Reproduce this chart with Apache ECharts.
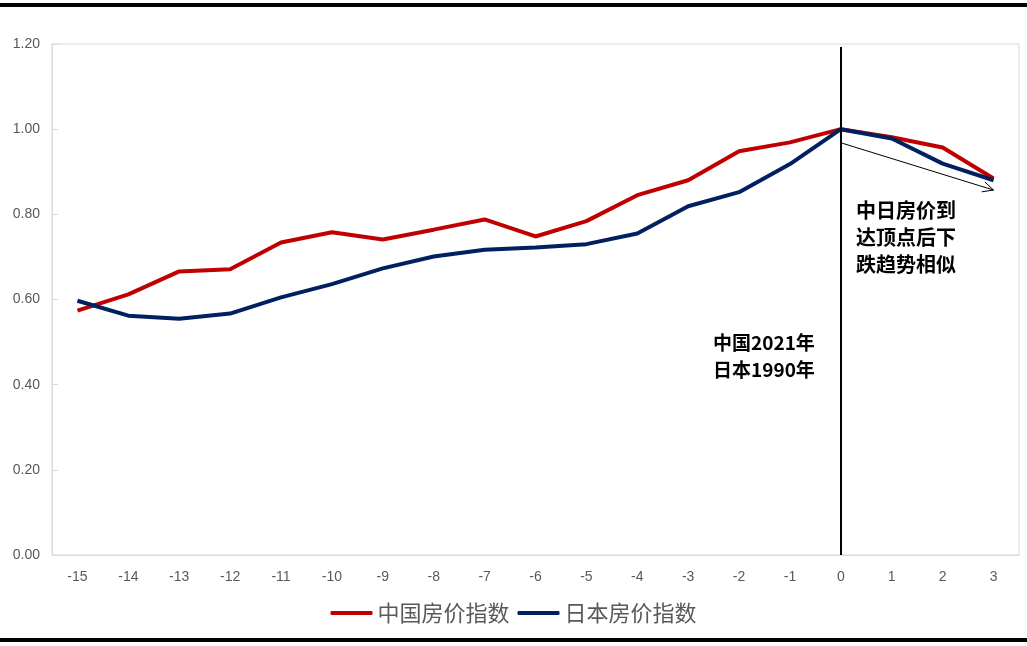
<!DOCTYPE html>
<html><head><meta charset="utf-8">
<script src="https://cdn.jsdelivr.net/npm/echarts@6/dist/echarts.min.js"></script>
<style>html,body{margin:0;padding:0;background:#fff}#c{width:1027px;height:646px}</style>
</head><body><div id="c"></div>
<script>
const categories = ['-15','-14','-13','-12','-11','-10','-9','-8','-7','-6','-5','-4','-3','-2','-1','0','1','2','3'];
const chinaIndex = [0.574,0.612,0.666,0.671,0.734,0.758,0.741,0.764,0.788,0.748,0.784,0.845,0.880,0.948,0.969,1.000,0.981,0.957,0.884];
const japanIndex = [0.597,0.562,0.555,0.567,0.605,0.636,0.673,0.701,0.717,0.722,0.730,0.755,0.819,0.852,0.918,1.000,0.978,0.919,0.880];
const seriesNames = ['中国房价指数','日本房价指数'];
const peakLabel = ['中国2021年','日本1990年'];
const trendLabel = ['中日房价到','达顶点后下','跌趋势相似'];
const peakLineTop = ['0', 1.193];
const peakLineBottom = ['0', 0];
const arrowFrom = ['0', 0.968];
const arrowTo = ['3', 0.857];

const chart = echarts.init(document.getElementById('c'), null, {renderer:'canvas'});
const labelFont = 'Liberation Sans';
const cjk = 'Noto Sans CJK SC';
const baseGraphic = [
  {type:'text',left:713,top:329,style:{text:peakLabel.join('\n'),font:'bold 19px "Noto Sans CJK SC"',lineHeight:27,fill:'#000'}},
  {type:'text',left:856,top:197,style:{text:trendLabel.join('\n'),font:'bold 20px "Noto Sans CJK SC"',lineHeight:27,fill:'#000'}},
  {type:'rect',shape:{x:0,y:3,width:1027,height:4},style:{fill:'#000'}},
  {type:'rect',shape:{x:0,y:638,width:1027,height:4},style:{fill:'#000'}}
];
chart.setOption({
  animation:false,
  grid:{left:52,right:8,top:44,bottom:91,show:true,borderColor:'#d9d9d9',borderWidth:1},
  legend:{
    data:seriesNames, left:'center', top:597, itemWidth:42, itemHeight:4, itemGap:8,
    icon:'roundRect',
    textStyle:{fontSize:22,color:'#595959',fontFamily:cjk}
  },
  xAxis:{
    type:'category', data:categories, boundaryGap:true,
    axisLine:{lineStyle:{color:'#d9d9d9'}}, axisTick:{show:false},
    axisLabel:{color:'#595959',fontSize:14,fontFamily:labelFont,margin:15}
  },
  yAxis:{
    type:'value', min:0, max:1.2, interval:0.2,
    axisLine:{show:true,lineStyle:{color:'#d9d9d9'}},
    axisTick:{show:true,inside:true,length:6,lineStyle:{color:'#d9d9d9'}},
    splitLine:{show:false},
    axisLabel:{color:'#595959',fontSize:14,fontFamily:labelFont,margin:12,formatter:v=>v.toFixed(2)}
  },
  series:[
    {name:seriesNames[0],type:'line',data:chinaIndex,symbol:'none',lineStyle:{color:'#C00000',width:4},itemStyle:{color:'#C00000'},z:3,
     markLine:{silent:true,symbol:['none','none'],label:{show:false},
       lineStyle:{color:'#000',width:2,type:'solid'},
       data:[[{coord:peakLineTop},{coord:peakLineBottom}]]}},
    {name:seriesNames[1],type:'line',data:japanIndex,symbol:'none',lineStyle:{color:'#002060',width:4},itemStyle:{color:'#002060'},z:4,
     markLine:{silent:true,symbol:['none','none'],label:{show:false},
       lineStyle:{color:'#000',width:1,type:'solid'},
       data:[[{coord:arrowFrom},{coord:arrowTo}]]}}
  ],
  graphic:baseGraphic
});
// open arrowhead at end of trend arrow, placed through the axis scales
const p0 = chart.convertToPixel({gridIndex:0}, arrowFrom);
const p1 = chart.convertToPixel({gridIndex:0}, arrowTo);
const dx = p1[0]-p0[0], dy = p1[1]-p0[1];
const L = Math.hypot(dx,dy), ux = dx/L, uy = dy/L;
const len = 12, ang = Math.PI/7;
function wing(s){
  const c = Math.cos(s*ang), sn = Math.sin(s*ang);
  const rx = ux*c - uy*sn, ry = ux*sn + uy*c;
  return [p1[0]-rx*len, p1[1]-ry*len];
}
chart.setOption({graphic: baseGraphic.concat([
  {type:'polyline',shape:{points:[wing(1),p1,wing(-1)]},style:{stroke:'#000',lineWidth:1,fill:null},z:10}
])});
</script></body></html>
